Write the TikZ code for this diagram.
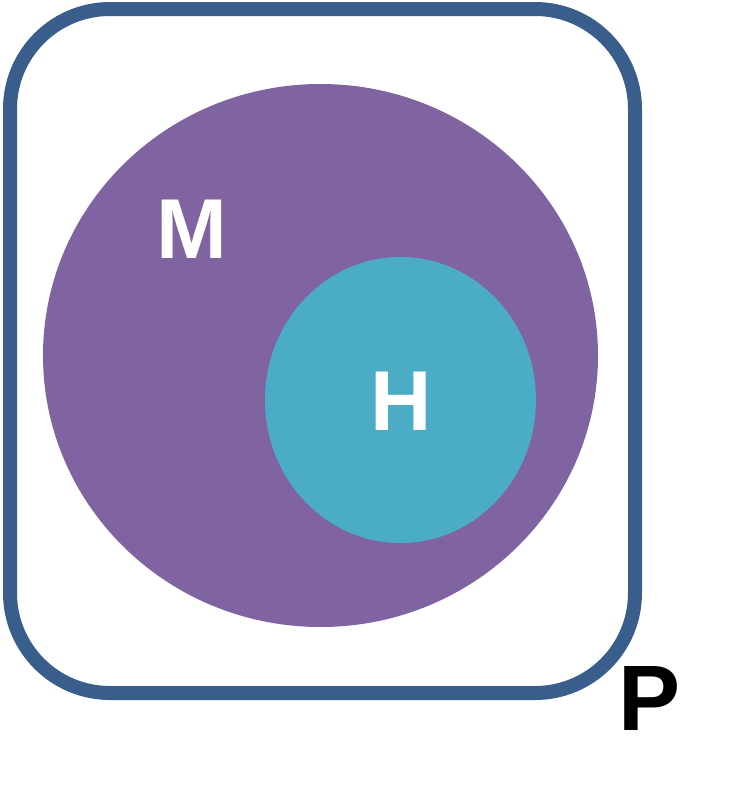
\documentclass[tikz,border=0pt]{standalone}
\usepackage{fontspec}
\setmainfont{Liberation Sans}
\usepackage{xcolor}
\usetikzlibrary{positioning}
\definecolor{frameblue}{HTML}{3A5E8C}
\definecolor{setpurple}{HTML}{8064A2}
\definecolor{setteal}{HTML}{4BACC6}

\begin{document}
\begin{tikzpicture}[x=1pt,y=-1pt,
  lbl/.style={inner sep=0pt,font=\fontsize{85}{85}\selectfont\bfseries},
  frame/.style={draw=frameblue,line width=14pt,rounded corners=100pt}]
\useasboundingbox (0,0) rectangle (742,811);
\draw[frame] (10,9) rectangle (635,693);
\fill[setpurple] (320.5,355.5) ellipse [x radius=277.5,y radius=271.5];
\fill[setteal] (400.5,400) ellipse [x radius=135.5,y radius=143];
\node[lbl,text=white] (m) at (191.5,229.5) {M};
\node[lbl,text=white] (h) at (401,401) {H};
\node[lbl,font=\fontsize{93}{93}\selectfont\bfseries] (p) at (649.5,698.5) {P};
\end{tikzpicture}
\end{document}
